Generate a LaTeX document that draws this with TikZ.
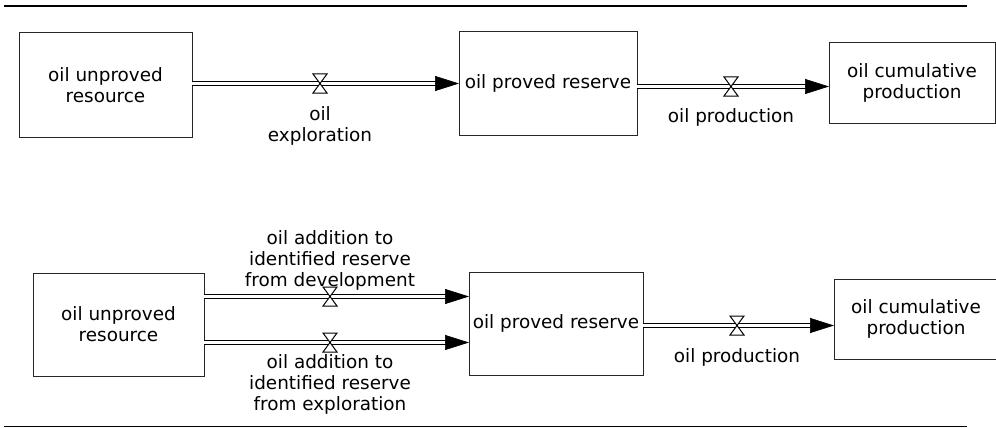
\documentclass[tikz,border=0pt]{standalone}
\usepackage{fontspec}
\setmainfont{DejaVu Sans}
\usetikzlibrary{arrows.meta}
\tikzset{
  stock/.style={draw=black!85, line width=1pt, inner sep=0pt, outer sep=0pt, align=center, fill=white},
  lbl/.style={align=center, inner sep=0pt},
  pipe/.style={draw=black, line width=1.05pt, double=white, double distance=2.9pt},
  flowtip/.style={line width=0.6pt, -{Triangle[length=24pt,width=15pt]}},
  valve/.pic={\draw[fill=white, line width=1pt] (-7,-9.5) -- (7,-9.5) -- (-7,9.5) -- (7,9.5) -- cycle;},
  rulel/.style={draw=black}
}
\begin{document}
\begin{tikzpicture}[x=1pt,y=-1pt, font=\fontsize{18.4}{21}\selectfont]
\useasboundingbox (0,0) rectangle (996,428);
% rules
\coordinate (r1a) at (4,6); \coordinate (r1b) at (967,6);
\coordinate (r2a) at (4,426.5); \coordinate (r2b) at (967,426.5);
\draw[rulel, line width=2.2pt] (r1a) -- (r1b);
\draw[rulel, line width=1.5pt] (r2a) -- (r2b);

% ---------- top row ----------
\node[stock, minimum width=173pt, minimum height=104pt] (t1) at (105.5,85) {oil unproved\\resource};
\node[stock, minimum width=178pt, minimum height=103pt] (t2) at (548,83.5) {oil proved reserve};
\node[stock, minimum width=166pt, minimum height=80pt] (t3) at (912,83) {oil cumulative\\production};

\coordinate (ya) at (0,83.5);
\coordinate (yb) at (0,86.5);
\coordinate (e1) at (t2.west |- ya);
\coordinate (e2) at (t3.west |- yb);
\draw[pipe] (t1.east |- ya) -- ([xshift=-22pt]e1);
\draw[flowtip] ([xshift=-24pt]e1) -- (e1);
\draw[pipe] (t2.east |- yb) -- ([xshift=-22pt]e2);
\draw[flowtip] ([xshift=-24pt]e2) -- (e2);

\coordinate (v1) at (320,83.5);
\coordinate (v2) at (731,86.5);
\pic at (v1) {valve};
\pic at (v2) {valve};
\node[lbl] (l1) at (320,126) {oil\\exploration};
\node[lbl] (l2) at (731,117) {oil production};

% ---------- bottom row ----------
\node[stock, minimum width=171pt, minimum height=103pt] (b1) at (118.5,324.5) {oil unproved\\resource};
\node[stock, minimum width=174pt, minimum height=103pt] (b2) at (556,323.5) {oil proved reserve};
\node[stock, minimum width=164pt, minimum height=80pt] (b3) at (916,319) {oil cumulative\\production};

\coordinate (yc) at (0,296.5);
\coordinate (yd) at (0,342.5);
\coordinate (ye) at (0,325.5);
\coordinate (e3) at (b2.west |- yc);
\coordinate (e4) at (b2.west |- yd);
\coordinate (e5) at (b3.west |- ye);
\draw[pipe] (b1.east |- yc) -- ([xshift=-22pt]e3);
\draw[flowtip] ([xshift=-24pt]e3) -- (e3);
\draw[pipe] (b1.east |- yd) -- ([xshift=-22pt]e4);
\draw[flowtip] ([xshift=-24pt]e4) -- (e4);
\draw[pipe] (b2.east |- ye) -- ([xshift=-22pt]e5);
\draw[flowtip] ([xshift=-24pt]e5) -- (e5);

\coordinate (v3) at (330,296.5);
\coordinate (v4) at (330,342.5);
\coordinate (v5) at (737,325.5);
\pic at (v3) {valve};
\pic at (v4) {valve};
\pic at (v5) {valve};
\node[lbl] (l3) at (330,260) {oil addition to\\identified reserve\\from development};
\node[lbl] (l4) at (330,384) {oil addition to\\identified reserve\\from exploration};
\node[lbl] (l5) at (737,357) {oil production};
\end{tikzpicture}
\end{document}
